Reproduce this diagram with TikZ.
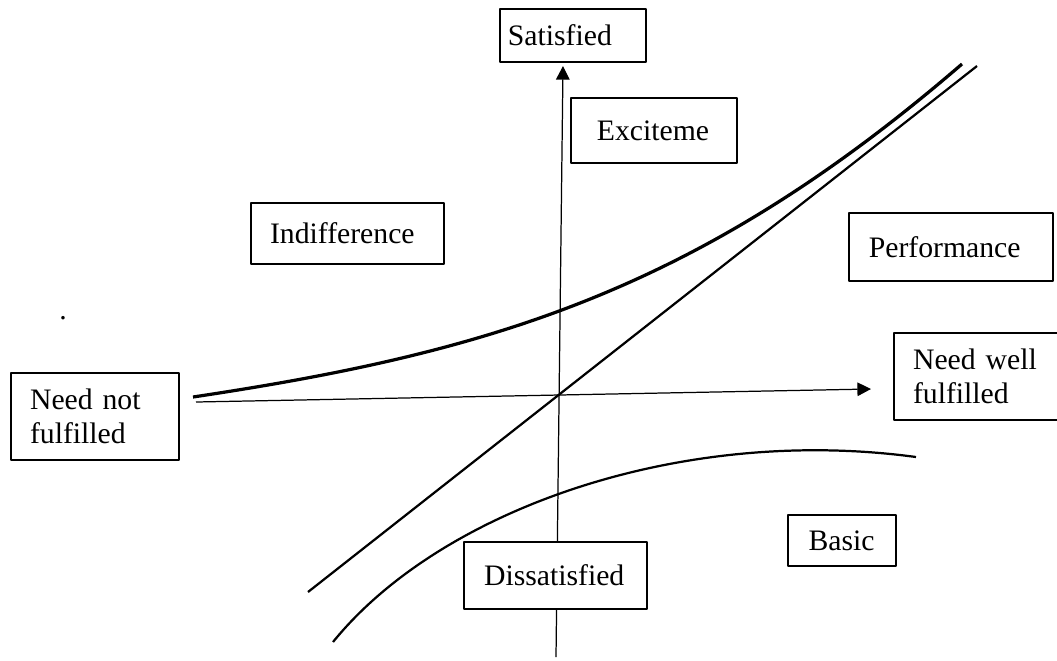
\documentclass[tikz,border=0pt]{standalone}
\usepackage{fontspec}
\setmainfont{Liberation Serif}
\usetikzlibrary{arrows.meta}
\tikzset{
	box/.style={draw, fill=white, line width=0.6pt, anchor=north west, align=left, outer sep=0pt, inner ysep=0pt},
	axis/.style={line width=0.5pt, -{Triangle[length=5.5pt,width=5.5pt]}},
}
\begin{document}
\begin{tikzpicture}[x=0.404pt, y=-0.404pt, font=\fontsize{12}{13.8}\selectfont, line join=round]
	\useasboundingbox (0,0) rectangle (1057,660);
	\path (556,657) coordinate (ybot)
	(563,66) coordinate (ytop)
	(196,402) coordinate (xl)
	(871,389) coordinate (xr)
	(308,592) coordinate (L0)
	(977,66) coordinate (L1)
	(193,397) coordinate (U0)
	(962,64) coordinate (U1)
	(333,642) coordinate (B0)
	(916,457) coordinate (B1);
	% curves and line
	\draw[line width=1.3pt] (U0) .. controls (493,352) and (700,290) .. (U1);
	\draw[line width=0.9pt] (L0)--(L1);
	\draw[line width=0.9pt] (B0) .. controls (440,510) and (680,425) .. (B1);
	% axes
	\draw[axis] (ybot)--(ytop);
	\draw[axis] (xl)--(xr);
	% boxes
	\foreach \n/\p/\s/\w/\h/\t in {sat/{500,9}/3.2/52.6/21.4/Satisfied,
		exc/{571,98}/10.5/46.1/26.3/Exciteme,
		indiff/{251,203}/7.7/62.6/24.6/Indifference,
		perf/{849,213}/8/66.4/27.5/Performance,
		wellful/{894,333}/7.7/52.5/35.1/{Need well\\fulfilled},
		notful/{11,373}/7.7/52.5/35.1/{Need not\\fulfilled},
		basic/{788,515}/8.3/27/20.6/Basic,
		dissat/{464,542}/8.1/57.7/27.1/Dissatisfied}
	\node[box, inner xsep=\s pt, text width=\w pt, minimum height=\h pt] (\n) at (\p) {\t};
	\node[inner sep=0pt] (dot) at (63,318) {.};
\end{tikzpicture}
\end{document}
